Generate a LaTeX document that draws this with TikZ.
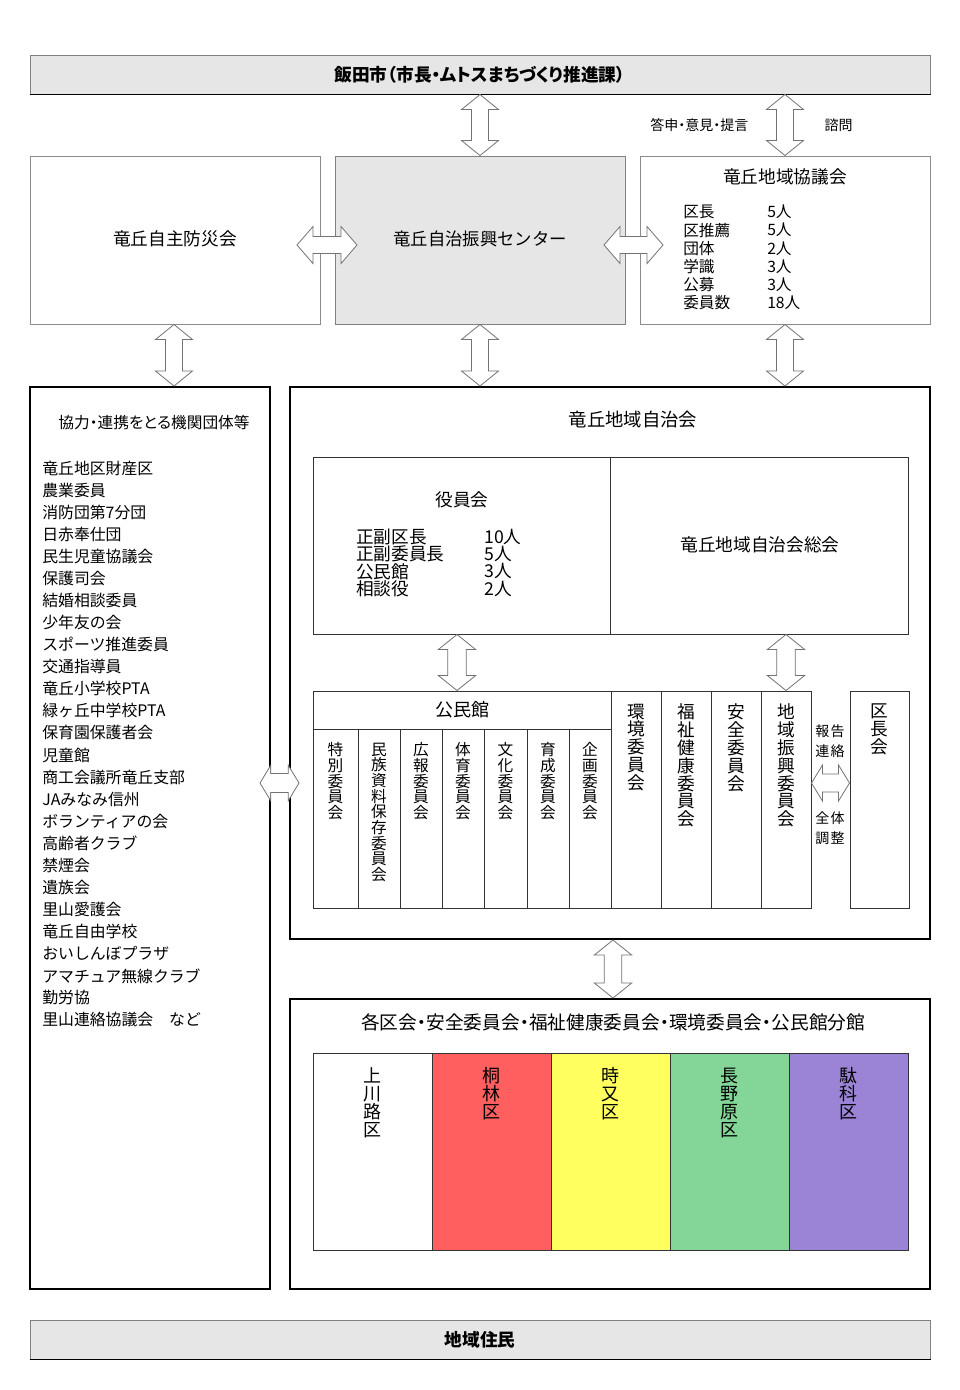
\documentclass[tikz,border=0pt]{standalone}
\usepackage{fontspec}
\setmainfont{Noto Sans CJK JP}
\newfontfamily\jpp[RawFeature=+palt]{Noto Sans CJK JP}
\usetikzlibrary{fit,calc}
\definecolor{boxgray}{HTML}{E6E6E6}
\definecolor{kred}{HTML}{FF5F5F}
\definecolor{kyellow}{HTML}{FFFF5F}
\definecolor{kgreen}{HTML}{83D698}
\definecolor{kpurple}{HTML}{9B84D6}
\newcommand\myfs[1]{\fontsize{#1}{#1}\selectfont}
\newcommand\myfsb[2]{\fontsize{#1}{#2}\selectfont}
\newcommand\vdblarrow[5]{%
\draw[barrow] let \p1=(#1),\p2=(#2) in
 (\x1,\y1) -- (\x1+#4,\y1-#3) -- (\x1+#5,\y1-#3) -- (\x1+#5,\y2+#3) -- (\x1+#4,\y2+#3) -- (\x1,\y2)
 -- (\x1-#4,\y2+#3) -- (\x1-#5,\y2+#3) -- (\x1-#5,\y1-#3) -- (\x1-#4,\y1-#3) -- cycle;}
\newcommand\hdblarrow[5]{%
\draw[barrow] let \p1=(#1),\p2=(#2) in
 (\x1,\y1) -- (\x1+#3,\y1+#4) -- (\x1+#3,\y1+#5) -- (\x2-#3,\y1+#5) -- (\x2-#3,\y1+#4) -- (\x2,\y1)
 -- (\x2-#3,\y1-#4) -- (\x2-#3,\y1-#5) -- (\x1+#3,\y1-#5) -- (\x1+#3,\y1-#4) -- cycle;}
\begin{document}
\begin{tikzpicture}[x=0.75pt,y=-0.75pt,
  graybox/.style={draw=black!50, fill=boxgray, line width=0.75pt, inner sep=0pt},
  thinbox/.style={draw=black!45, fill=white, line width=0.75pt, inner sep=0pt},
  bigbox/.style={draw=black, line width=1.5pt, inner sep=0pt},
  cell/.style={draw=black!80, line width=0.75pt, inner sep=0pt},
  barrow/.style={draw=black!55, fill=white, line width=0.6pt, line join=miter},
  lbl/.style={inner sep=0pt, anchor=west},
  vtext/.style={align=center, inner sep=0pt, anchor=north},
  every node/.style={text=black}]
\useasboundingbox[fill=white] (0,0) rectangle (960,1390);

% top
\node[graybox, fit={(30,55) (930,94)}] (city) {};
\draw[black, line width=0.75pt] (city.south west) -- (city.south east);
\node[font=\bfseries\jpp\myfs{13.25}] (citytxt) at (city.center) {飯田市（市長・ムトスまちづくり推進課）};

% row 2
\node[thinbox, fit={(30,156) (320,324)}] (bousai) {};
\node[font=\myfs{13.25}] (bousaitxt) at (175,239) {竜丘自主防災会};
\node[graybox, fit={(335,156) (625,324)}] (center) {};
\node[font=\myfs{13}] (centertxt) at (480,239) {竜丘自治振興センター};
\node[thinbox, fit={(640,156) (930,324)}] (kyogi) {};
\node[font=\myfs{13.25}] (kyogitxt) at (785,177) {竜丘地域協議会};
\foreach \a/\b [count=\i from 0] in {区長/5人, 区推薦/5人, 団体/2人, 学識/3人, 公募/3人, 委員数/18人}{
  \node[lbl, font=\myfs{11.75}] (kqa\i) at (683,212+\i*18.2) {\a};
  \node[lbl, font=\myfs{11.75}] (kqb\i) at (767,212+\i*18.2) {\b};
}
\node[font=\jpp\myfs{10.5}, anchor=east] (toshin) at (753,125) {答申・意見・提言};
\node[font=\myfs{10.5}, anchor=west] (shimon) at (820,125) {諮問};

% row 3 left
\node[bigbox, fit={(30,387) (270,1289)}] (kikan) {};
\node[font=\jpp\myfs{11.75}] (kikantxt) at (154,423) {協力・連携をとる機関団体等};
\foreach \t [count=\i from 0] in {竜丘地区財産区,農業委員,消防団第7分団,日赤奉仕団,民生児童協議会,保護司会,結婚相談委員,少年友の会,スポーツ推進委員,交通指導員,竜丘小学校PTA,緑ヶ丘中学校PTA,保育園保護者会,児童館,商工会議所竜丘支部,JAみなみ信州,ボランティアの会,高齢者クラブ,禁煙会,遺族会,里山愛護会,竜丘自由学校,おいしんぼプラザ,アマチュア無線クラブ,勤労協,里山連絡協議会　など}{
  \node[lbl, font=\myfs{11.9}] (org\i) at (42,468+\i*22.08) {\t};
}

% row 3 right
\node[bigbox, fit={(290,387) (930,939)}] (jichikai) {};
\node[font=\myfs{13.75}] (jichikaitxt) at (633,420) {竜丘地域自治会};
\node[cell, fit={(313,457) (610,634)}] (yakuin) {};
\node[font=\myfs{13.25}] (yakuintxt) at (462,500) {役員会};
\foreach \a/\b [count=\i from 0] in {正副区長/10人, 正副委員長/5人, 公民館/3人, 相談役/2人}{
  \node[lbl, font=\myfs{13.25}] (yka\i) at (356,537+\i*17.2) {\a};
  \node[lbl, font=\myfs{13.25}] (ykb\i) at (484,537+\i*17.2) {\b};
}
\node[cell, fit={(610,457) (908,634)}] (sokai) {};
\node[font=\myfs{13.25}] (sokaitxt) at (760,545) {竜丘地域自治会総会};

\node[cell, fit={(313,691) (611,729)}] (kominkan) {};
\node[font=\myfs{13.5}] (kominkantxt) at (462,710) {公民館};
\foreach \xa/\xb/\t [count=\i] in {313/358/{特\\別\\委\\員\\会}, 358/400/{民\\族\\資\\料\\保\\存\\委\\員\\会}, 400/442/{広\\報\\委\\員\\会}, 442/484/{体\\育\\委\\員\\会}, 484/527/{文\\化\\委\\員\\会}, 527/569/{育\\成\\委\\員\\会}, 569/611/{企\\画\\委\\員\\会}}{
  \node[cell, fit={(\xa,729) (\xb,908)}] (ks\i) {};
  \node[vtext, font={\myfsb{11.75}{11.75}}] (kst\i) at ($(ks\i.north)+(0,14)$) {\t};
}
\foreach \xa/\xb/\t [count=\i] in {611/661/{環\\境\\委\\員\\会}, 661/711/{福\\祉\\健\\康\\委\\員\\会}, 711/761/{安\\全\\委\\員\\会}, 761/811/{地\\域\\振\\興\\委\\員\\会}}{
  \node[cell, fit={(\xa,691) (\xb,908)}] (rc\i) {};
  \node[vtext, font={\myfsb{13.25}{13.4}}] (rct\i) at ($(rc\i.north)+(0,13)$) {\t};
}
\node[cell, fit={(850,691) (909,908)}] (kuchokai) {};
\node[vtext, font={\myfsb{13.25}{13.4}}] (kuchokaitxt) at ($(kuchokai.north)+(0,13)$) {区\\長\\会};
\node[font=\myfs{10.5}] (hokoku) at (830,731) {報\kern1pt告};
\node[font=\myfs{10.5}] (renraku) at (830,751) {連\kern1pt絡};
\node[font=\myfs{10.5}] (zentai) at (830,818) {全\kern1pt体};
\node[font=\myfs{10.5}] (chosei) at (830,838) {調\kern1pt整};

% bottom block
\node[bigbox, fit={(290,999) (930,1289)}] (kakuku) {};
\node[font=\jpp\myfs{14}] (kakukutxt) at (613,1022) {各区会・安全委員会・福祉健康委員会・環境委員会・公民館分館};
\foreach \xa/\xb/\c/\t [count=\i] in {313/432/white/{上\\川\\路\\区}, 432/551/kred/{桐\\林\\区}, 551/670/kyellow/{時\\又\\区}, 670/789/kgreen/{長\\野\\原\\区}, 789/908/kpurple/{駄\\科\\区}}{
  \node[cell, fill=\c, fit={(\xa,1053) (\xb,1250)}] (ku\i) {};
  \node[vtext, font={\myfsb{13.5}{13.5}}] (kut\i) at ($(ku\i.north)+(0,15)$) {\t};
}

% residents
\node[graybox, fit={(30,1320) (930,1359)}] (jumin) {};
\draw[black, line width=0.75pt] (jumin.south west) -- (jumin.south east);
\node[font=\bfseries\myfs{13.25}] (jumintxt) at (jumin.center) {地域住民};

% arrows
\vdblarrow{city.south -| center.north}{center.north}{11.25pt}{13.875pt}{6.375pt}
\vdblarrow{city.south -| kyogi.north}{kyogi.north}{11.25pt}{13.875pt}{6.375pt}
\coordinate (h1l) at (297,245);
\coordinate (h1r) at (357,245);
\coordinate (h2l) at (604,245);
\coordinate (h2r) at (663,245);
\hdblarrow{h1l}{h1r}{12pt}{13.875pt}{6.375pt}
\hdblarrow{h2l}{h2r}{12pt}{13.875pt}{6.375pt}
\vdblarrow{bousai.south -| 174,0}{kikan.north -| 174,0}{11.25pt}{13.875pt}{6.375pt}
\vdblarrow{center.south}{jichikai.north -| center.south}{11.25pt}{13.875pt}{6.375pt}
\vdblarrow{kyogi.south}{jichikai.north -| kyogi.south}{11.25pt}{13.875pt}{6.375pt}
\coordinate (h3l) at (260,783);
\coordinate (h3r) at (299,783);
\hdblarrow{h3l}{h3r}{8pt}{13.2pt}{7.1pt}
\vdblarrow{yakuin.south -| 457,0}{kominkan.north -| 457,0}{11.25pt}{14pt}{7pt}
\vdblarrow{sokai.south -| rc4.north}{rc4.north}{11.25pt}{14pt}{7pt}
\coordinate (h4l) at (rc4.east |- 0,783);
\coordinate (h4r) at (kuchokai.west |- 0,783);
\hdblarrow{h4l}{h4r}{8.25pt}{13.5pt}{6.8pt}
\vdblarrow{jichikai.south -| 613,0}{kakuku.north -| 613,0}{11.25pt}{14pt}{6.5pt}
\end{tikzpicture}
\end{document}
